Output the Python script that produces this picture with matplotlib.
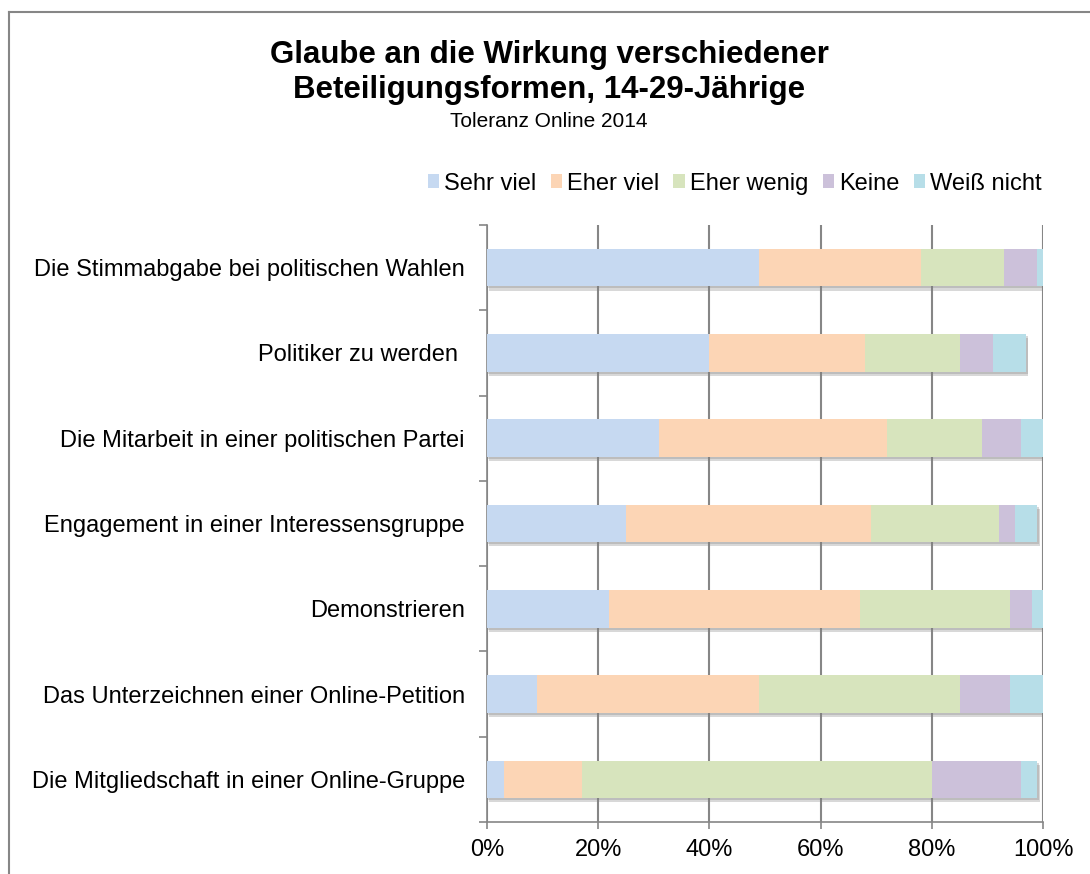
import matplotlib
matplotlib.use("Agg")
import matplotlib.pyplot as plt
from matplotlib.lines import Line2D
from matplotlib.patches import Patch
import matplotlib.patheffects as pe
import numpy as np

plt.rcParams['font.family'] = ['Liberation Sans', 'DejaVu Sans']

categories = [
    "Die Stimmabgabe bei politischen Wahlen",
    "Politiker zu werden ",
    "Die Mitarbeit in einer politischen Partei",
    "Engagement in einer Interessensgruppe",
    "Demonstrieren",
    "Das Unterzeichnen einer Online-Petition",
    "Die Mitgliedschaft in einer Online-Gruppe",
]
series_names = ["Sehr viel", "Eher viel", "Eher wenig", "Keine", "Weiß nicht"]
sehr_viel  = [49, 40, 31, 25, 22, 9, 3]
eher_viel  = [29, 28, 41, 44, 45, 40, 14]
eher_wenig = [15, 17, 17, 23, 27, 36, 63]
keine      = [6, 6, 7, 3, 4, 9, 16]
weiss_nicht = [1, 6, 4, 4, 2, 6, 3]
colors = ["#C6D9F1", "#FCD5B5", "#D7E4BD", "#CCC1DA", "#B7DEE8"]

series = [sehr_viel, eher_viel, eher_wenig, keine, weiss_nicht]

fig = plt.figure(figsize=(10.9, 8.74), dpi=100)
ax = fig.add_axes([0.4468, 0.0595, 0.5101, 0.6831])

y = np.arange(len(categories))
left = np.zeros(len(categories))
for name, vals, c in zip(series_names, series, colors):
    vals = np.array(vals, dtype=float)
    ax.barh(y, vals, left=left, height=0.44, color=c, label=name, zorder=3)
    left += vals

# soft shadow behind the whole bar
for yi, tot in zip(y, left):
    ax.barh(yi, tot, height=0.44, color="white", zorder=2,
            path_effects=[pe.SimplePatchShadow(offset=(1.5, -3), shadow_rgbFace="#808080", alpha=0.3),
                          pe.SimplePatchShadow(offset=(1, -1.5), shadow_rgbFace="#808080", alpha=0.3)])

ax.set_xlim(0, 100)
ax.set_ylim(6.5, -0.5)
ax.set_xticks(np.arange(0, 101, 20))
ax.set_xticklabels([f"{v}%" for v in range(0, 101, 20)], fontsize=17)
ax.set_yticks(y)
ax.set_yticklabels(categories, fontsize=17)
ax.set_yticks(np.arange(-0.5, 7, 1), minor=True)
ax.tick_params(axis='y', which='major', length=0, pad=16)
ax.tick_params(axis='y', which='minor', length=6, width=1.2, color="#868686")
ax.tick_params(axis='x', length=5, width=1.2, color="#868686", pad=7)
ax.xaxis.grid(True, color="#868686", linewidth=1.5, zorder=0)
ax.set_axisbelow(True)
for s in ["top", "right"]:
    ax.spines[s].set_visible(False)
for s in ["left", "bottom"]:
    ax.spines[s].set_color("#868686")
    ax.spines[s].set_linewidth(1.2)

handles = [Patch(facecolor=c, edgecolor="none") for c in colors]
fig.legend(handles, series_names, loc="center", bbox_to_anchor=(0.674, 0.790), ncol=5,
           frameon=False, fontsize=17, handlelength=0.5, handleheight=0.5,
           handletextpad=0.2, columnspacing=0.6)

fig.text(0.504, 1 - 63 / 874, "Glaube an die Wirkung verschiedener", ha="center", va="baseline",
         fontsize=22.5, fontweight="bold")
fig.text(0.504, 1 - 98 / 874, "Beteiligungsformen, 14-29-Jährige", ha="center", va="baseline",
         fontsize=22.5, fontweight="bold")
fig.text(0.503, 1 - 127 / 874, "Toleranz Online 2014", ha="center", va="baseline", fontsize=15)

# chart frame (top and left edge)
fig.add_artist(Line2D([9 / 1090, 1.0], [1 - 12 / 874, 1 - 12 / 874], color="#868686", linewidth=1.5))
fig.add_artist(Line2D([9 / 1090, 9 / 1090], [0, 1 - 12 / 874], color="#868686", linewidth=1.5))

fig.savefig("out.png", dpi=100)
